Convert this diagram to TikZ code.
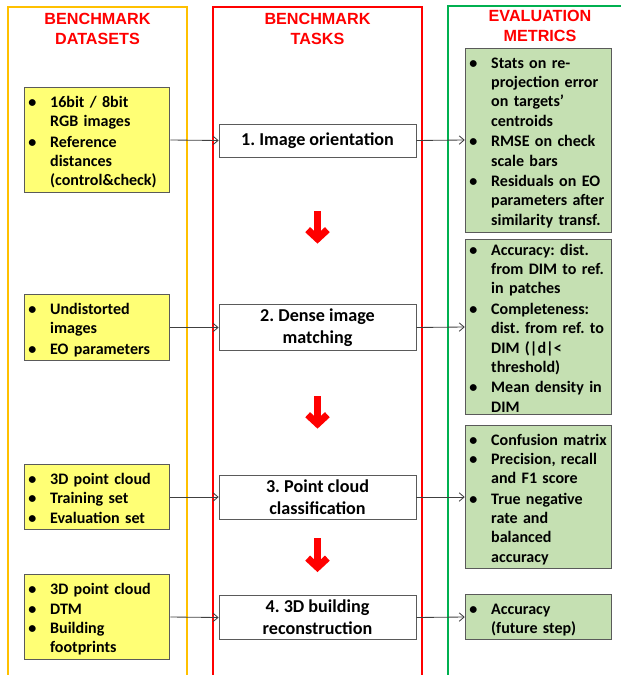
\documentclass[tikz,border=0pt]{standalone}
\usepackage{fontspec}
\setmainfont{Carlito}
\newfontfamily\headfont{Liberation Sans}
\usepackage{xcolor}
\usepackage{tikz}
\usetikzlibrary{arrows.meta,positioning}
\frenchspacing
\definecolor{BenchGold}{HTML}{FFC000}
\definecolor{BenchRed}{HTML}{FF0000}
\definecolor{BenchGreen}{HTML}{00B050}
\definecolor{BenchYellow}{HTML}{FFFF75}
\definecolor{BenchLime}{HTML}{C5E0B2}
\definecolor{BenchEdge}{HTML}{5A5A5A}
\definecolor{BenchInk}{HTML}{404040}
% one bulleted entry, its lines hanging under the first
\newcommand{\bitem}[1]{\par\noindent\makebox[15.5pt][l]{\textbullet}%
  \begin{tabular}[t]{@{}l@{}}#1\end{tabular}}
\tikzset{
  frame/.style={line width=1.4pt},
  head/.style={font=\headfont\fontsize{11.5}{14.2}\selectfont\bfseries,
    text=BenchRed,align=center},
  listbox/.style={draw=BenchEdge,line width=0.6pt,inner xsep=3pt,inner ysep=0.5pt,
    align=left,font=\fontsize{11.4}{13.7}\selectfont\bfseries},
  databox/.style={listbox,fill=BenchYellow,text width=97.6pt},
  metricbox/.style={listbox,fill=BenchLime,text width=98.3pt},
  taskbox/.style={draw=BenchEdge,line width=0.6pt,fill=white,minimum width=140pt,
    align=center,font=\fontsize{12.9}{15.4}\selectfont\bfseries},
  thinarrow/.style={-{Straight Barb[length=3.5pt,width=6pt]},BenchInk,line width=0.6pt},
  bigarrow/.style={-{Straight Barb[length=6.5pt,width=14pt]},BenchRed,line width=5pt}
}

\begin{document}
\begin{tikzpicture}[x=0.025cm,y=-0.025cm]
  \useasboundingbox (0,0) rectangle (620,675);

  % column frames, open at the bottom
  \draw[frame,BenchGold] (8,690) |- (187,7) -- (187,690);
  \draw[frame,BenchRed] (213,690) |- (422,7) -- (422,690);
  \draw[frame,BenchGreen] (448,690) |- (630,6);

  \node[head] (hdata) at (97.5,29) {BENCHMARK\\DATASETS};
  \node[head] (htask) at (317.5,29) {BENCHMARK\\TASKS};
  \node[head] (hmetric) at (540,26) {EVALUATION\\METRICS};

  % datasets
  \node[databox,minimum height=69.7pt] (y1) at (97,140)
    {\bitem{16bit / 8bit\\RGB images}\bitem{Reference\\distances\\(control\&check)}};
  \node[databox,minimum height=40.5pt] (y2) at (97,327.5)
    {\bitem{Undistorted\\images}\bitem{EO parameters}};
  \node[databox,minimum height=42.7pt] (y3) at (97,497)
    {\bitem{3D point cloud}\bitem{Training set}\bitem{Evaluation set}};
  \node[databox,minimum height=54pt] (y4) at (97,617)
    {\bitem{3D point cloud}\bitem{DTM}\bitem{Building\\footprints}};

  % tasks
  \node[taskbox,minimum height=23.5pt] (t1) at (317.5,140.5) {1. Image orientation};
  \node[taskbox,minimum height=29.2pt] (t2) at (317.5,327.5) {2. Dense image\\matching};
  \node[taskbox,minimum height=29.9pt] (t3) at (317.5,497) {3. Point cloud\\classification};
  \node[taskbox,minimum height=29.2pt] (t4) at (317.5,617.5) {4. 3D building\\reconstruction};

  % metrics
  \node[metricbox,minimum height=130.9pt] (g1) at (538.5,140)
    {\bitem{Stats on re-\\projection error\\on targets’\\centroids}\bitem{RMSE on check\\scale bars}%
     \bitem{Residuals on EO\\parameters after\\similarity transf.}};
  \node[metricbox,inner ysep=-2.2pt,minimum height=122.3pt] (g2) at (538.5,327)
    {\bitem{Accuracy: dist.\\from DIM to ref.\\in patches}\bitem{Completeness:\\dist. from ref. to\\DIM (|d|<\\threshold)}%
     \bitem{Mean density in\\DIM}};
  \node[metricbox,minimum height=99.6pt] (g3) at (538.5,497)
    {\bitem{Confusion matrix}\bitem{Precision, recall\\and F1 score}\bitem{True negative\\rate and\\balanced\\accuracy}};
  \node[metricbox,minimum height=31.3pt] (g4) at (538.5,617)
    {\bitem{Accuracy\\(future step)}};

  \foreach \i in {1,2,3,4}{
    \draw[thinarrow] (y\i.east) -- (t\i.west);
    \draw[thinarrow] (t\i.east) -- (g\i.west);
  }
  \draw[bigarrow,shorten <=38.4pt,shorten >=42.7pt] (t1) -- (t2);
  \draw[bigarrow,shorten <=32pt,shorten >=32.7pt] (t2) -- (t3);
  \draw[bigarrow,shorten <=13.5pt,shorten >=16.4pt] (t3) -- (t4);
\end{tikzpicture}
\end{document}
